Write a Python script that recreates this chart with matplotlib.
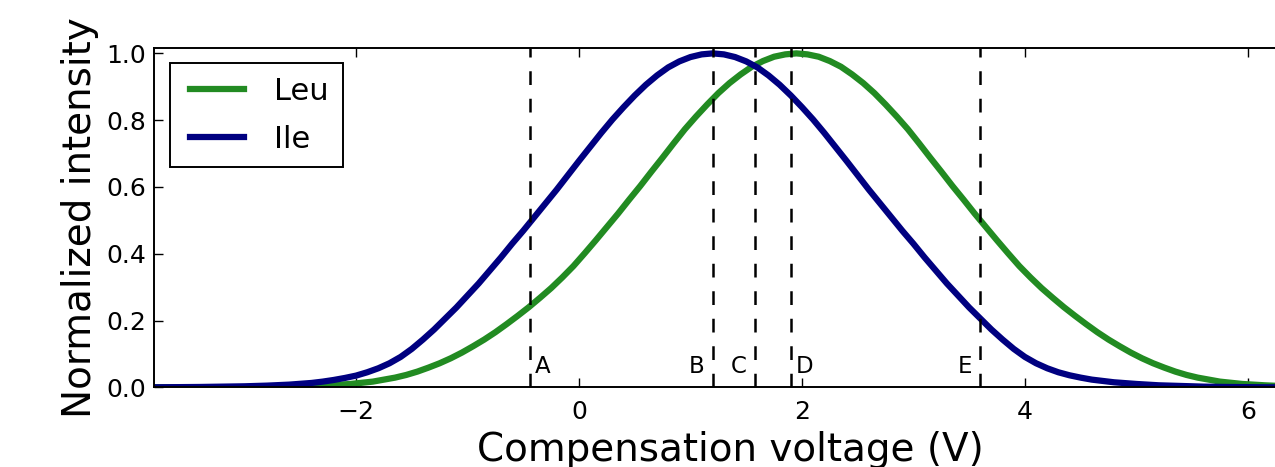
import matplotlib
matplotlib.use("Agg")
import matplotlib.pyplot as plt
from matplotlib.lines import Line2D
from matplotlib.legend_handler import HandlerLine2D

# ---- data ----
ile_v = [-3.8, -3.6, -3.4, -3.2, -3.0, -2.8, -2.6, -2.4, -2.3, -2.2, -2.1, -2.0,
         -1.9, -1.8, -1.7, -1.6, -1.5, -1.4, -1.3, -1.2, -1.1, -1.0, -0.9, -0.8,
         -0.7, -0.6, -0.5, -0.4, -0.3, -0.2, -0.1, 0.0, 0.1, 0.2, 0.3, 0.4,
         0.5, 0.6, 0.7, 0.8, 0.9, 1.0, 1.1, 1.2, 1.3, 1.4, 1.5, 1.6,
         1.7, 1.8, 1.9, 2.0, 2.1, 2.2, 2.3, 2.4, 2.5, 2.6, 2.7, 2.8,
         2.9, 3.0, 3.1, 3.2, 3.3, 3.4, 3.5, 3.6, 3.7, 3.8, 3.9, 4.0,
         4.1, 4.2, 4.3, 4.4, 4.5, 4.6, 4.8, 5.0, 5.2, 5.4, 5.6, 5.8,
         6.0, 6.2, 6.4]
ile_i = [0.0, 0.0005, 0.001, 0.002, 0.003, 0.005, 0.008, 0.013, 0.017, 0.022, 0.028, 0.035,
         0.045, 0.057, 0.072, 0.091, 0.115, 0.143, 0.173, 0.206, 0.239, 0.275, 0.311, 0.350,
         0.389, 0.430, 0.469, 0.510, 0.551, 0.592, 0.635, 0.678, 0.720, 0.762, 0.802, 0.839,
         0.874, 0.906, 0.934, 0.958, 0.976, 0.989, 0.997, 1.000, 0.997, 0.989, 0.976, 0.958,
         0.934, 0.906, 0.874, 0.839, 0.802, 0.762, 0.720, 0.678, 0.635, 0.592, 0.551, 0.510,
         0.469, 0.430, 0.389, 0.350, 0.311, 0.275, 0.239, 0.206, 0.173, 0.143, 0.115, 0.091,
         0.072, 0.057, 0.045, 0.036, 0.029, 0.023, 0.015, 0.010, 0.006, 0.004, 0.002, 0.001,
         0.0005, 0.0, 0.0]

leu_v = [-3.85, -3.65, -3.45, -3.25, -3.05, -2.85, -2.65, -2.45, -2.25, -2.05, -1.85, -1.65,
         -1.55, -1.45, -1.35, -1.25, -1.15, -1.05, -0.95, -0.85, -0.75, -0.65, -0.55, -0.45,
         -0.35, -0.25, -0.15, -0.05, 0.05, 0.15, 0.25, 0.35, 0.45, 0.55, 0.65, 0.75,
         0.85, 0.95, 1.05, 1.15, 1.25, 1.35, 1.45, 1.55, 1.65, 1.75, 1.85, 1.95,
         2.05, 2.15, 2.25, 2.35, 2.45, 2.55, 2.65, 2.75, 2.85, 2.95, 3.05, 3.15,
         3.25, 3.35, 3.45, 3.55, 3.65, 3.75, 3.85, 3.95, 4.05, 4.15, 4.25, 4.35,
         4.45, 4.55, 4.65, 4.75, 4.85, 4.95, 5.05, 5.15, 5.25, 5.35, 5.45, 5.55,
         5.75, 5.95, 6.15, 6.35, 6.55]
leu_i = [0.0, 0.0, 0.0001, 0.0003, 0.0005, 0.001, 0.002, 0.003, 0.006, 0.010, 0.017, 0.029,
         0.037, 0.047, 0.059, 0.072, 0.087, 0.104, 0.123, 0.143, 0.165, 0.189, 0.214, 0.240,
         0.268, 0.297, 0.329, 0.363, 0.401, 0.440, 0.480, 0.520, 0.562, 0.603, 0.646, 0.688,
         0.731, 0.773, 0.811, 0.847, 0.881, 0.911, 0.937, 0.960, 0.977, 0.990, 0.997, 1.000,
         0.997, 0.990, 0.977, 0.960, 0.937, 0.911, 0.881, 0.847, 0.811, 0.773, 0.731, 0.688,
         0.646, 0.603, 0.562, 0.520, 0.480, 0.440, 0.401, 0.363, 0.329, 0.297, 0.268, 0.240,
         0.214, 0.189, 0.165, 0.143, 0.123, 0.104, 0.087, 0.072, 0.059, 0.047, 0.037, 0.029,
         0.017, 0.010, 0.006, 0.003, 0.002]

marker_labels = ["A", "B", "C", "D", "E"]
marker_v = [-0.44, 1.20, 1.58, 1.90, 3.60]
marker_side = ["right", "left", "left", "right", "left"]

x_ticks = [-2, 0, 2, 4, 6]
y_ticks = [0.0, 0.2, 0.4, 0.6, 0.8, 1.0]

plt.rcParams['font.family'] = ['DejaVu Sans']
plt.rcParams['lines.scale_dashes'] = False

fig = plt.figure(figsize=(12.75, 4.67), dpi=100)
ax = fig.add_axes([0.12102, 0.17066, 0.90314, 0.72719])

n = min(len(leu_v), len(leu_i))
ax.plot(leu_v[:n], leu_i[:n], color='#228B22', lw=4.5, label='Leu',
        solid_joinstyle='round')
n = min(len(ile_v), len(ile_i))
ax.plot(ile_v[:n], ile_i[:n], color='#000080', lw=4.5, label='Ile',
        solid_joinstyle='round')

for lab, xv, side in zip(marker_labels, marker_v, marker_side):
    ax.axvline(xv, color='black', lw=1.8, ls=(0, (9.9, 9.9)), zorder=3)
    if side == "right":
        ax.text(xv + 0.048, 0.044, lab, ha='left', va='baseline', fontsize=16.5)
    else:
        ax.text(xv - 0.075, 0.044, lab, ha='right', va='baseline', fontsize=16.5)

ax.set_xlim(-3.81, 6.52)
ax.set_ylim(0, 1.017)
ax.set_xticks(x_ticks)
ax.set_xticklabels(["\u2212" + str(-t) if t < 0 else str(t) for t in x_ticks])
ax.set_yticks(y_ticks)
ax.set_yticklabels(["%.1f" % t for t in y_ticks])

ax.tick_params(direction='in', length=6.5, width=1.0, labelsize=18, pad=6,
               top=True, right=False, bottom=True, left=True)
ax.tick_params(axis='x', pad=9)
for s in ax.spines.values():
    s.set_linewidth(1.4)

ax.set_xlabel("Compensation voltage (V)", fontsize=28, labelpad=5)
ax.set_ylabel("Normalized intensity", fontsize=28, labelpad=5)

leg = ax.legend(loc='upper left', fontsize=22, frameon=True, fancybox=False,
                edgecolor='black', framealpha=1.0, borderaxespad=0.5,
                handlelength=1.98, handletextpad=1.0, labelspacing=0.62, borderpad=0.45,
                handler_map={Line2D: HandlerLine2D(xpad=0.23)})
leg.get_frame().set_linewidth(1.4)

fig.savefig("out.png", dpi=100, facecolor='white')
